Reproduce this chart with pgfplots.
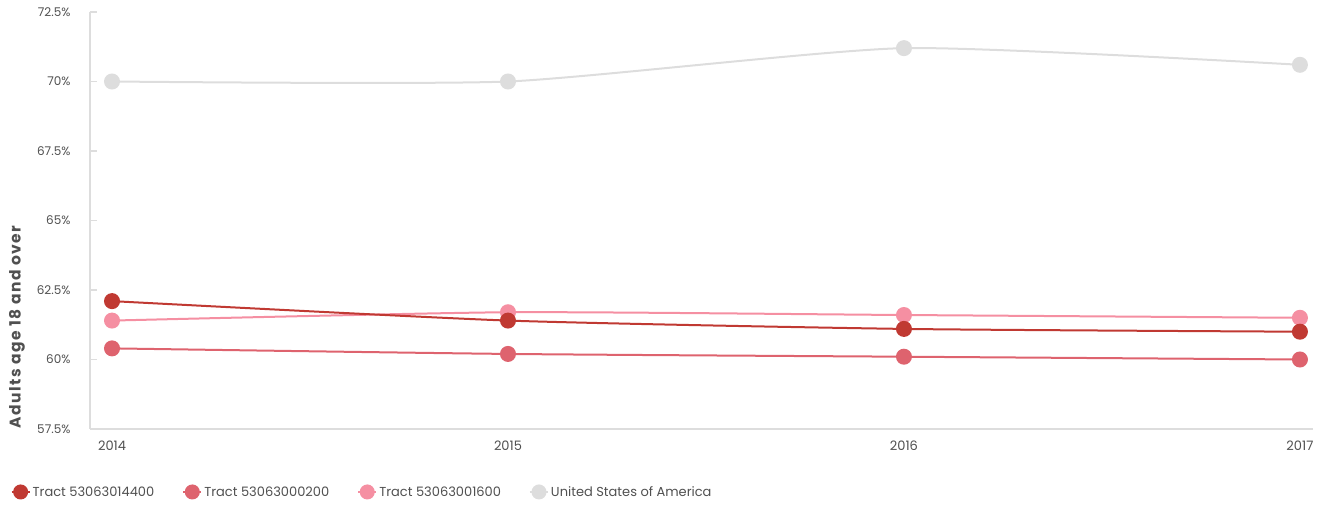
\documentclass[border=0pt]{standalone}
\usepackage{pgfplots}
\pgfplotsset{compat=1.18}
\usepackage{fontspec}
\setmainfont{Poppins}
\definecolor{cA}{RGB}{192,57,50}
\definecolor{cB}{RGB}{222,99,110}
\definecolor{cC}{RGB}{245,143,162}
\definecolor{cD}{RGB}{221,221,221}
\definecolor{txt}{RGB}{80,80,80}
\begin{document}
\begin{tikzpicture}
\begin{axis}[
  name=ax,
  scale only axis,
  width=1223pt, height=417pt,
  xmin=2013.9444, xmax=2017.033,
  ymin=57.5, ymax=72.5,
  xtick={2014,2015,2016,2017},
  ytick={57.5,60,62.5,65,67.5,70,72.5},
  yticklabel={\pgfmathprintnumber{\tick}\%},
  /pgf/number format/assume math mode=true,
  /pgf/number format/1000 sep={},
  axis x line*=bottom,
  axis y line*=left,
  axis line style={cD, line width=1.5pt},
  x axis line style={-},
  y axis line style={-},
  major x tick style={draw=none},
  major y tick style={cD, line width=1.5pt},
  ytick align=inside,
  major tick length=7pt,
  yticklabel style={font=\fontsize{12}{14}\selectfont, text=txt, xshift=-16pt},
  xticklabel style={font=\fontsize{13}{15}\selectfont, text=txt, yshift=-8pt},
  ylabel={\fontsize{15.5}{17}\selectfont\bfseries\addfontfeatures{LetterSpace=9}Adults age 18 and over},
  ylabel style={text=txt, at={(axis description cs:-0.0597,0.245)}, anchor=center},
  clip=false,
  reverse legend,
  legend columns=4,
  legend style={draw=none, fill=none, at={(axis description cs:-0.0675,-0.151)}, anchor=west,
    font=\fontsize{13}{15}\selectfont, text=txt,
    /tikz/every even column/.append style={column sep=26pt},
    /tikz/every odd column/.append style={column sep=0pt}},
  legend image code/.code={\draw[mark repeat=2,mark phase=2,mark size=6.5pt,#1] plot coordinates {(0pt,0pt) (9pt,0pt) (18pt,0pt)};},
  every axis plot/.append style={line width=2pt, mark=*, mark size=7pt, smooth, tension=0.35},
]
\addplot[color=cD, mark options={fill=cD, draw=cD}] coordinates {(2014,70.0) (2015,70.0) (2016,71.2) (2017,70.6)};
\addlegendentry{United States of America}
\addplot[color=cC, mark options={fill=cC, draw=cC}] coordinates {(2014,61.4) (2015,61.7) (2016,61.6) (2017,61.5)};
\addlegendentry{Tract 53063001600}
\addplot[color=cB, mark options={fill=cB, draw=cB}] coordinates {(2014,60.4) (2015,60.2) (2016,60.1) (2017,60.0)};
\addlegendentry{Tract 53063000200}
\addplot[color=cA, mark options={fill=cA, draw=cA}] coordinates {(2014,62.1) (2015,61.4) (2016,61.1) (2017,61.0)};
\addlegendentry{Tract 53063014400}
\end{axis}
\pgfresetboundingbox
\path ([shift={(-90pt,-76pt)}]ax.south west) rectangle ([shift={(1243pt,429pt)}]ax.south west);
\end{tikzpicture}
\end{document}
